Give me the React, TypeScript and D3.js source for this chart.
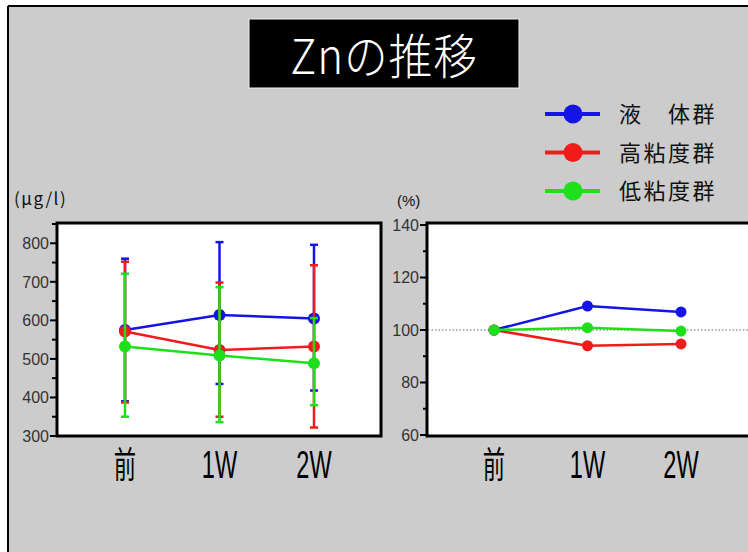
import React from 'react';
import * as d3 from 'd3';

// Time points
const categories = ['前', '1W', '2W'];

// Serum Zn (μg/l): group means and error-bar ends
const liquidMean = [575, 614, 605];
const liquidUpper = [760, 803, 796];
const liquidLower = [390, 435, 418];

const highMean = [571, 523, 532];
const highUpper = [752, 698, 743];
const highLower = [387, 350, 322];

const lowMean = [532, 509, 489];
const lowUpper = [721, 686, 606];
const lowLower = [350, 336, 380];

// Ratio to baseline (%)
const liquidPct = [100, 109.1, 106.9];
const highPct = [100, 94.0, 94.7];
const lowPct = [100, 100.9, 99.6];

const groupNames = ['液　体群', '高粘度群', '低粘度群'];
const groupColors = ['#1414e6', '#f01c1c', '#1ee01a'];

const absTicks = [300, 400, 500, 600, 700, 800];
const absMinor = [350, 450, 550, 650, 750, 850];
const pctTicks = [60, 80, 100, 120, 140];
const pctMinor = [70, 90, 110, 130];

const W = 748;
const H = 552;

const sansJP = "'Noto Sans CJK JP', 'Noto Sans', sans-serif";
const sans = "'Liberation Sans', Arial, sans-serif";

export default function App() {
  // Left panel scales
  const xL = d3.scalePoint<string>().domain(categories).range([125, 314]);
  const yL = d3.scaleLinear().domain([300, 850]).range([436, 224]);
  // Right panel scales
  const xR = d3.scalePoint<string>().domain(categories).range([494, 681]);
  const yR = d3.scaleLinear().domain([60, 140]).range([435, 225]);

  const absSeries = [
    { mean: liquidMean, up: liquidUpper, lo: liquidLower },
    { mean: highMean, up: highUpper, lo: highLower },
    { mean: lowMean, up: lowUpper, lo: lowLower },
  ];
  const pctSeries = [liquidPct, highPct, lowPct];

  const lineL = d3
    .line<number>()
    .x((_, i) => xL(categories[i]) as number)
    .y((v) => yL(v));
  const lineR = d3
    .line<number>()
    .x((_, i) => xR(categories[i]) as number)
    .y((v) => yR(v));

  const xLabel = (x: number, c: string, key: string) => (
    <text
      key={key}
      transform={`translate(${x},478) scale(0.62,1)`}
      textAnchor="middle"
      fontFamily={c === '前' ? sansJP : sans}
      fontSize={c === '前' ? 36 : 38}
      fill="#000"
    >
      {c}
    </text>
  );

  return (
    <svg
      width={W}
      height={H}
      style={{ position: 'absolute', left: 0, top: 0 }}
      xmlns="http://www.w3.org/2000/svg"
    >
      <rect x={0} y={0} width={W} height={H} fill="#fff" />
      <rect x={8} y={6} width={W - 8} height={H - 6} fill="#cccccc" />
      <line x1={8} y1={6} x2={W} y2={6} stroke="#000" strokeWidth={2} />
      <line x1={8} y1={6} x2={8} y2={H} stroke="#000" strokeWidth={2} />

      {/* Title */}
      <rect x={249} y={19} width={270} height={69} fill="#000" stroke="#eee" strokeWidth={1} />
      <text
        transform="translate(384,74) scale(0.95,1.05)"
        textAnchor="middle"
        fontFamily={sansJP}
        fontWeight={300}
        fontSize={46}
        letterSpacing={1}
        fill="#fff"
      >
        Znの推移
      </text>

      {/* Legend */}
      {groupNames.map((n, i) => {
        const y = 114 + i * 38.5;
        return (
          <g key={n}>
            <line x1={545} x2={600} y1={y} y2={y} stroke={groupColors[i]} strokeWidth={4} />
            <circle cx={573} cy={y} r={9.5} fill={groupColors[i]} />
            <text
              x={619}
              y={y + 8}
              fontFamily={sansJP}
              fontSize={22}
              letterSpacing={2.5}
              fill="#111"
            >
              {n}
            </text>
          </g>
        );
      })}

      {/* Left panel */}
      <text x={14} y={205} fontFamily={sansJP} fontSize={17} letterSpacing={1.5} fill="#111">
        (μg/l)
      </text>
      <rect x={57} y={223} width={324} height={213} fill="#fff" stroke="#000" strokeWidth={3} />
      {absTicks.map((t) => (
        <g key={`la${t}`}>
          <line x1={50} x2={57} y1={yL(t)} y2={yL(t)} stroke="#000" strokeWidth={2} />
          <text
            x={49}
            y={yL(t)}
            dy="0.36em"
            textAnchor="end"
            fontFamily={sans}
            fontSize={16}
            fill="#333"
          >
            {t}
          </text>
        </g>
      ))}
      {absMinor.map((t) => (
        <line key={`lm${t}`} x1={52} x2={57} y1={yL(t)} y2={yL(t)} stroke="#000" strokeWidth={2} />
      ))}
      {absSeries.map((s, k) => (
        <g key={`ls${k}`}>
          {categories.map((c, i) => {
            const x = xL(c) as number;
            return (
              <g key={c}>
                <line x1={x} x2={x} y1={yL(s.up[i])} y2={yL(s.lo[i])} stroke={groupColors[k]} strokeWidth={2.5} />
                <line x1={x - 4} x2={x + 4} y1={yL(s.up[i])} y2={yL(s.up[i])} stroke={groupColors[k]} strokeWidth={2.5} />
                <line x1={x - 4} x2={x + 4} y1={yL(s.lo[i])} y2={yL(s.lo[i])} stroke={groupColors[k]} strokeWidth={2.5} />
              </g>
            );
          })}
          <path d={lineL(s.mean) as string} fill="none" stroke={groupColors[k]} strokeWidth={2.5} />
          {s.mean.map((v, i) => (
            <circle key={i} cx={xL(categories[i]) as number} cy={yL(v)} r={6} fill={groupColors[k]} />
          ))}
        </g>
      ))}
      {categories.map((c) => xLabel(xL(c) as number, c, `lx${c}`))}

      {/* Right panel */}
      <text x={397} y={206} fontFamily={sans} fontSize={15} fill="#111">
        (%)
      </text>
      <rect x={427} y={223} width={340} height={213} fill="#fff" stroke="#000" strokeWidth={3} />
      <line
        x1={428}
        x2={W}
        y1={yR(100)}
        y2={yR(100)}
        stroke="#666"
        strokeWidth={1}
        strokeDasharray="1.5,2"
      />
      {pctTicks.map((t) => (
        <g key={`ra${t}`}>
          <line x1={420} x2={427} y1={yR(t)} y2={yR(t)} stroke="#000" strokeWidth={2} />
          <text
            x={419}
            y={yR(t)}
            dy="0.36em"
            textAnchor="end"
            fontFamily={sans}
            fontSize={16}
            fill="#333"
          >
            {t}
          </text>
        </g>
      ))}
      {pctMinor.map((t) => (
        <line key={`rm${t}`} x1={423} x2={427} y1={yR(t)} y2={yR(t)} stroke="#000" strokeWidth={2} />
      ))}
      {pctSeries.map((s, k) => (
        <g key={`rs${k}`}>
          <path d={lineR(s) as string} fill="none" stroke={groupColors[k]} strokeWidth={2.5} />
          {s.map((v, i) => (
            <circle key={i} cx={xR(categories[i]) as number} cy={yR(v)} r={5.5} fill={groupColors[k]} />
          ))}
        </g>
      ))}
      {categories.map((c) => xLabel(xR(c) as number, c, `rx${c}`))}
    </svg>
  );
}
